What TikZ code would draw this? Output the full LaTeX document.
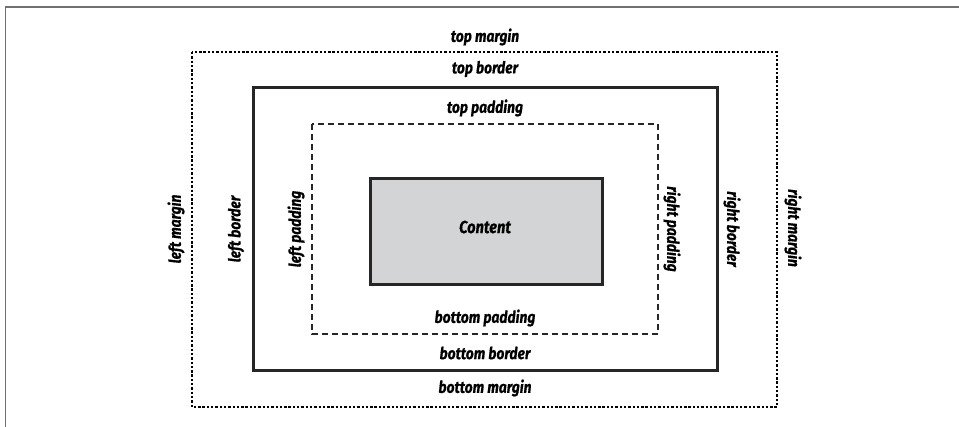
\documentclass[tikz,border=0pt]{standalone}
\usepackage{fontspec}
\newfontfamily\labfont[FakeStretch=0.84, FakeBold=0.6]{Fira Sans}
\definecolor{contentgray}{HTML}{D3D4D6}
\definecolor{framegray}{HTML}{707070}
\begin{document}
\begin{tikzpicture}[x=1pt,y=-1pt,
  lab/.style={font=\labfont\bfseries\itshape\fontsize{16.5}{16.5}\selectfont, inner sep=0pt},
  marginbox/.style={draw=black, line width=2.8pt, dash pattern=on 2.4pt off 1.9pt},
  borderbox/.style={draw=black!85, line width=3pt},
  paddingbox/.style={draw=black!85, line width=2.8pt, dash pattern=on 6pt off 4pt},
  contentbox/.style={draw=black!85, line width=2.6pt, fill=contentgray}]
\useasboundingbox (0,0) rectangle (959,427);
% open frame
\coordinate (ftr) at (959,7);
\coordinate (ftl) at (5.5,7);
\coordinate (fbl) at (5.5,427);
\draw[framegray, line width=1.4pt] (ftr) -- (ftl) -- (fbl);
% boxes
\draw[marginbox] (192,52) rectangle (777,407);
\draw[borderbox] (253,88) rectangle (717,371);
\draw[paddingbox] (312,124) rectangle (658,334);
\node[contentbox, minimum width=232pt, minimum height=106pt, anchor=north west, inner sep=0pt] (content) at (369,177) {};
\node[lab, font=\labfont\bfseries\itshape\fontsize{17.5}{17.5}\selectfont] (ct) at (485,227) {Content};
% top/bottom labels
\node[lab] (tm) at (485,37) {top margin};
\node[lab] (tb) at (485,69) {top border};
\node[lab] (tp) at (485,108) {top padding};
\node[lab] (bp) at (485,318) {bottom padding};
\node[lab] (bb) at (485,353) {bottom border};
\node[lab] (bm) at (485,388) {bottom margin};
% side labels
\node[lab, rotate=90] (lm) at (176,229) {left margin};
\node[lab, rotate=90] (lb) at (236,229) {left border};
\node[lab, rotate=90] (lp) at (296,229) {left padding};
\node[lab, rotate=-90] (rp) at (672,229) {right padding};
\node[lab, rotate=-90] (rb) at (732,229) {right border};
\node[lab, rotate=-90] (rm) at (793,228) {right margin};
\end{tikzpicture}
\end{document}
